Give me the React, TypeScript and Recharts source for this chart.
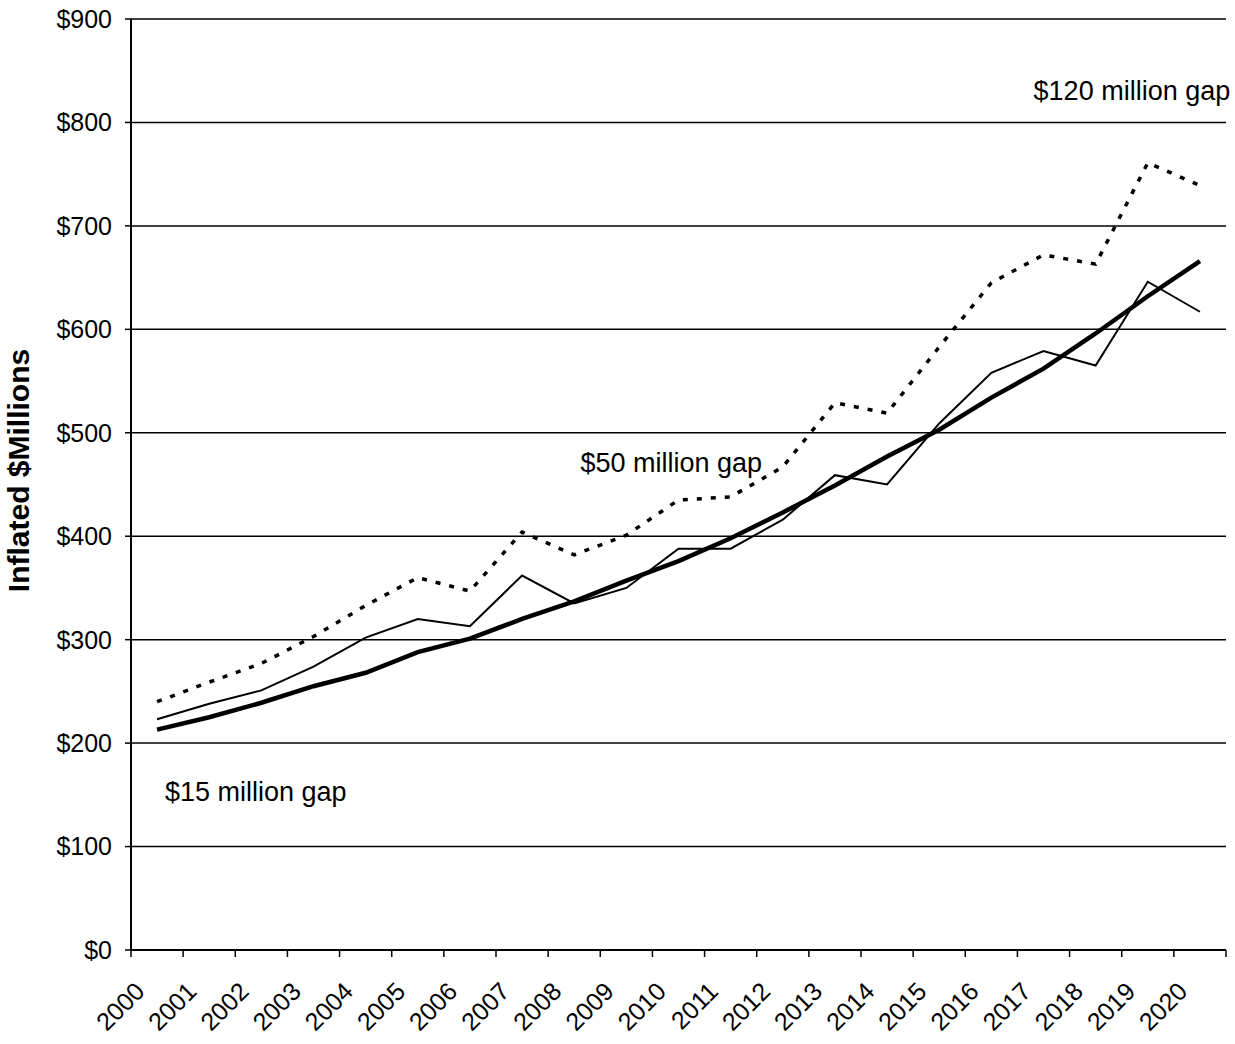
import React from 'react'
import { LineChart, Line, XAxis, YAxis, CartesianGrid, ReferenceDot } from 'recharts'

const years = ['2000', '2001', '2002', '2003', '2004', '2005', '2006', '2007', '2008', '2009', '2010',
  '2011', '2012', '2013', '2014', '2015', '2016', '2017', '2018', '2019', '2020']
const trend = [213, 225, 239, 255, 268, 288, 301, 320, 337, 357, 376, 398, 423, 449, 477, 503, 534, 562, 596, 632, 666]
const actual = [223, 238, 251, 274, 302, 320, 313, 362, 335, 350, 388, 388, 416, 459, 450, 509, 558, 579, 565, 646, 617]
const projected = [240, 259, 277, 303, 333, 360, 347, 404, 382, 401, 435, 438, 467, 529, 519, 583, 645, 672, 663, 761, 739]
const yTicks = [0, 100, 200, 300, 400, 500, 600, 700, 800, 900]
const gapNotes = [
  { text: '$15 million gap', at: 0.15, value: 144 },
  { text: '$50 million gap', at: 8.12, value: 462 },
  { text: '$120 million gap', at: 16.81, value: 822 },
]

const data = years.map((year, i) => ({ i, year, trend: trend[i], actual: actual[i], projected: projected[i] }))
const bandEdges = years.map((_, i) => i - 0.5).concat([years.length - 0.5])
const bandCenters = years.map((_, i) => i)

const YearTick = (props: any) => {
  const { x, y, payload } = props
  const ax = x - 11
  const ay = y + 42
  return (
    <text x={ax} y={ay} transform={`rotate(-45 ${ax} ${ay})`} textAnchor="end" fontSize={25} fill="#000">
      {years[payload.value]}
    </text>
  )
}

export default function App() {
  return (
    <div style={{ position: 'absolute', left: 0, top: 0, background: '#fff', fontFamily: '"Liberation Sans", Arial, sans-serif' }}>
      <LineChart width={1235} height={1044} data={data} margin={{ top: 19, right: 9, left: 0, bottom: 13 }}>
        <CartesianGrid vertical={false} stroke="#000" strokeWidth={1.5} />
        <XAxis dataKey="i" type="number" domain={[-0.5, 20.5]} ticks={bandEdges} interval={0}
          tickFormatter={() => ''} tickSize={7} height={1} axisLine={{ stroke: '#000', strokeWidth: 2 }}
          tickLine={{ stroke: '#000', strokeWidth: 1.5 }} />
        <XAxis xAxisId="lbl" dataKey="i" type="number" domain={[-0.5, 20.5]} ticks={bandCenters} interval={0}
          tick={<YearTick />} tickSize={0} tickMargin={0} height={80} axisLine={false} tickLine={false} />
        <YAxis domain={[0, 900]} ticks={yTicks} interval={0} width={131} tickSize={6} tickMargin={13}
          tickFormatter={v => `$${v}`} tick={{ fill: '#000', fontSize: 25 }}
          axisLine={{ stroke: '#000', strokeWidth: 2 }} tickLine={{ stroke: '#000', strokeWidth: 1.5 }}
          label={{
            content: (p: any) => {
              const vb = p.viewBox || { x: 0, y: 19, height: 931 }
              const cx = vb.x + 29
              const cy = vb.y + vb.height / 2 - 14
              return (
                <text transform={`translate(${cx},${cy}) rotate(-90)`} textAnchor="middle"
                  fontSize={30} fontWeight="bold" fill="#000">Inflated $Millions</text>
              )
            },
          }} />
        <YAxis yAxisId="r" orientation="right" domain={[0, 900]} width={0} tick={false} tickLine={false}
          axisLine={{ stroke: '#000', strokeWidth: 2 }} />
        <Line type="linear" dataKey="projected" stroke="#000" strokeWidth={3.5} strokeDasharray="5 9"
          dot={false} isAnimationActive={false} />
        <Line type="linear" dataKey="actual" stroke="#000" strokeWidth={2}
          dot={false} isAnimationActive={false} />
        <Line type="linear" dataKey="trend" stroke="#000" strokeWidth={4.5}
          dot={false} isAnimationActive={false} />
        {gapNotes.map(n => (
          <ReferenceDot key={n.text} x={n.at} y={n.value} r={0} ifOverflow="hidden"
            shape={(p: any) => (
              <text x={p.cx} y={p.cy} fontSize={27} fill="#000">{n.text}</text>
            )} />
        ))}
      </LineChart>
    </div>
  )
}
